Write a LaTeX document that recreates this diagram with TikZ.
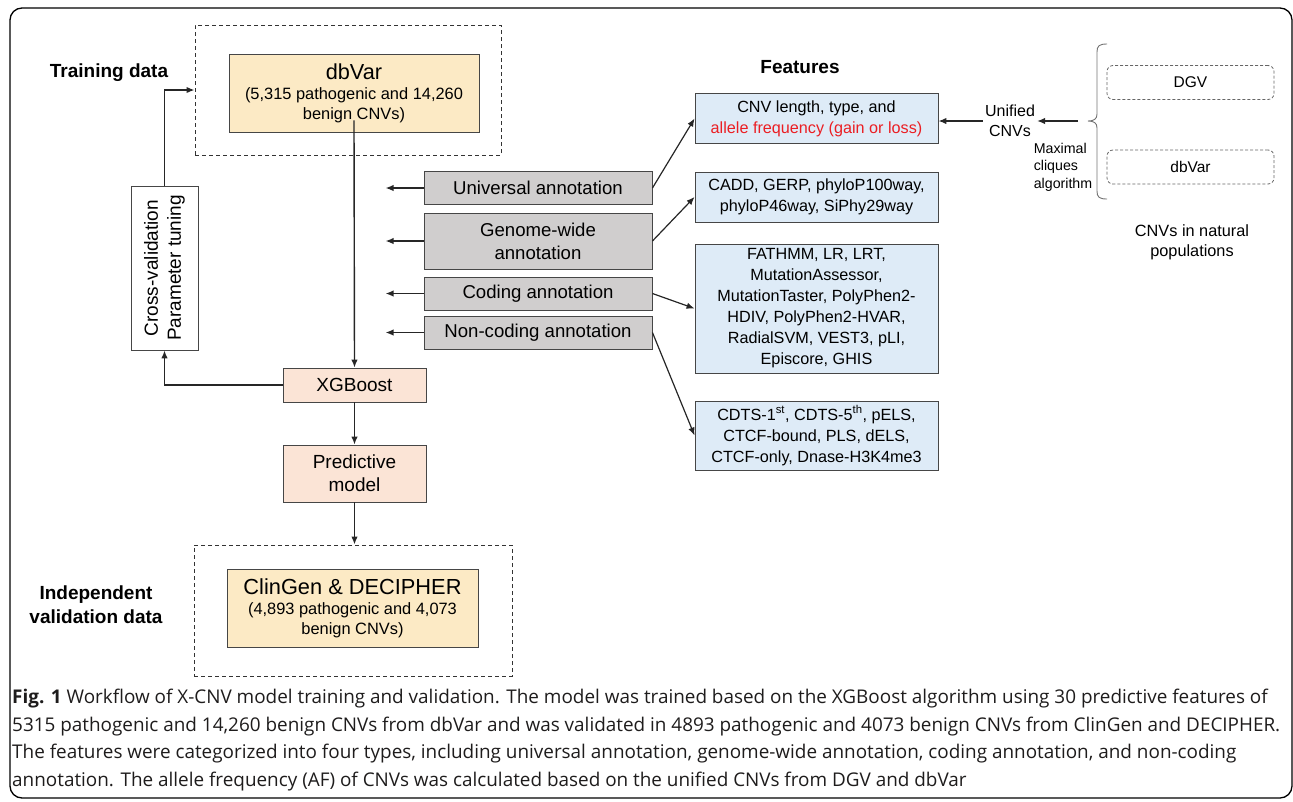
\documentclass[tikz,border=0pt]{standalone}
\usepackage{fontspec}
\setmainfont{Liberation Sans}
\newfontfamily\capfont{Open Sans}
\usetikzlibrary{arrows.meta, positioning}
\definecolor{dbyellow}{RGB}{252,234,197}
\definecolor{xgpink}{RGB}{251,228,214}
\definecolor{annogray}{RGB}{208,206,206}
\definecolor{featblue}{RGB}{222,235,247}
\definecolor{edgegray}{RGB}{70,70,70}
\definecolor{afred}{RGB}{235,30,35}
\definecolor{captext}{RGB}{30,28,28}

\begin{document}
\begin{tikzpicture}[x=1pt, y=-1pt,
  arr/.style={-{Latex[length=8pt,width=6.5pt]}, line width=1.4pt, black!85},
  box/.style={draw=edgegray, line width=0.9pt, inner sep=0pt, align=center},
  dashbox/.style={draw=black!80, line width=1pt, dash pattern=on 4pt off 3pt},
  databox/.style={box, fill=dbyellow, minimum width=250, minimum height=78,
    font=\fontsize{16.4}{20}\selectfont},
  pinkbox/.style={box, fill=xgpink, minimum width=143, font=\fontsize{19}{23}\selectfont},
  annobox/.style={box, fill=annogray, minimum width=228, font=\fontsize{18.6}{23}\selectfont},
  featbox/.style={box, fill=featblue, minimum width=243, font=\fontsize{16.2}{21}\selectfont},
  popbox/.style={draw=black!60, line width=0.8pt, dash pattern=on 3pt off 2pt,
    rounded corners=6, minimum width=167, minimum height=34, font=\fontsize{15.5}{19}\selectfont},
  lbl/.style={font=\bfseries\fontsize{19}{24}\selectfont, align=center, inner sep=0pt}]
  \useasboundingbox (0,0) rectangle (1293,801);
  \draw[line width=1.3pt, rounded corners=12] (10,8) rectangle (1292,798);

  % training and validation data
  \node[dashbox, minimum width=306, minimum height=130] (train) at (348,90) {};
  \node[databox] (dbvar) at (354,93)
      {{\fontsize{21.7}{24}\selectfont dbVar}\\(5,315 pathogenic and 14,260\\benign CNVs)};
  \node[lbl] (trainlbl) at (109,73) {Training data};
  \node[box, minimum width=164, minimum height=67, rotate=90,
        font=\fontsize{19}{23}\selectfont] (cv) at (164.5,268) {Cross-validation\\Parameter tuning};
  \node[pinkbox, minimum height=34] (xgb) at (354.5,385) {XGBoost};
  \node[pinkbox, minimum height=57] (pred) at (354.5,473.5) {Predictive\\model};
  \node[dashbox, minimum width=318, minimum height=131] (indep) at (353,610.5) {};
  \node[databox, minimum width=251] (clin) at (352.5,608)
      {{\fontsize{21.8}{24}\selectfont ClinGen \& DECIPHER}\\(4,893 pathogenic and 4,073\\benign CNVs)};
  \node[lbl] (indlbl) at (96,605) {Independent\\validation data};

  % annotation groups
  \node[annobox, minimum height=33] (univ) at (538,188) {Universal annotation};
  \node[annobox, minimum height=56] (genome) at (538,241) {Genome-wide\\annotation};
  \node[annobox, minimum height=33] (coding) at (538,293.5) {Coding annotation};
  \node[annobox, minimum height=33] (noncod) at (538,332.5) {Non-coding annotation};

  % features
  \node[lbl] (feat) at (800,67) {Features};
  \node[featbox, minimum height=50] (f1) at (816.5,118.5)
      {CNV length, type, and\\\textcolor{afred}{allele frequency (gain or loss)}};
  \node[featbox, minimum height=50] (f2) at (816.5,197)
      {CADD, GERP, phyloP100way,\\phyloP46way, SiPhy29way};
  \node[featbox, minimum height=129] (f3) at (816.5,308.5)
      {FATHMM, LR, LRT,\\MutationAssessor,\\MutationTaster, PolyPhen2-\\HDIV, PolyPhen2-HVAR,\\RadialSVM, VEST3, pLI,\\Episcore, GHIS};
  \node[featbox, minimum height=69] (f4) at (816.5,435.5)
      {CDTS-1\textsuperscript{st}, CDTS-5\textsuperscript{th}, pELS,\\CTCF-bound, PLS, dELS,\\CTCF-only, Dnase-H3K4me3};

  % natural populations
  \node[font=\fontsize{16}{19.5}\selectfont, align=center, inner sep=2pt] (unified) at (1010,121) {Unified\\CNVs};
  \node[font=\fontsize{14.2}{17.5}\selectfont, align=left, inner sep=0pt] (maxcl) at (1063,167) {Maximal\\cliques\\algorithm};
  \node[popbox] (dgv) at (1190.5,82.5) {DGV};
  \node[popbox] (dbvarpop) at (1190.5,167) {dbVar};
  \node[font=\fontsize{16.3}{20}\selectfont, align=center] (natural) at (1192,242) {CNVs in natural\\populations};
  \coordinate (brmid) at (1078,121);
  \draw[black!55, line width=0.9pt] (1107,44) .. controls (1099,44) and (1097,46) .. (1097,52) -- (1097,114)
     .. controls (1097,119) and (1094,121) .. (1088,121)
     .. controls (1094,121) and (1097,123) .. (1097,128) -- (1097,191)
     .. controls (1097,197) and (1099,199) .. (1107,199);

  % connectors
  \draw[arr] ([yshift=12pt]dbvar.south) -- (xgb.north);
  \draw[arr] (cv.east) |- (train.west);
  \draw[arr] (xgb.west) -| (cv.west);
  \draw[arr] (xgb) -- (pred);
  \draw[arr] (pred.south) -- (pred.south |- indep.north);
  \foreach \n in {univ,genome,coding,noncod} {
    \coordinate (\n-out) at ([xshift=-38pt]\n.west);
    \draw[arr] (\n.west) -- (\n-out);
  }
  \foreach \a/\b in {univ/f1,genome/f2,coding/f3,noncod/f4}
    \draw[arr, line width=1.2pt] (\a.east) -- (\b.west);
  \draw[arr] (unified.west) -- (unified.west -| f1.east);
  \draw[arr] (brmid) -- (unified.east);

  % caption
  \node[anchor=north west, inner sep=0pt, align=left, text=captext,
        font=\capfont\fontsize{18.9}{27.5}\selectfont] (caption) at (12,689)
    {\textbf{Fig. 1} Workflow of X-CNV model training and validation. The model was trained based on the XGBoost algorithm using 30 predictive features of\\
     5315 pathogenic and 14,260 benign CNVs from dbVar and was validated in 4893 pathogenic and 4073 benign CNVs from ClinGen and DECIPHER.\\
     The features were categorized into four types, including universal annotation, genome-wide annotation, coding annotation, and non-coding\\
     annotation. The allele frequency (AF) of CNVs was calculated based on the unified CNVs from DGV and dbVar};
\end{tikzpicture}
\end{document}
